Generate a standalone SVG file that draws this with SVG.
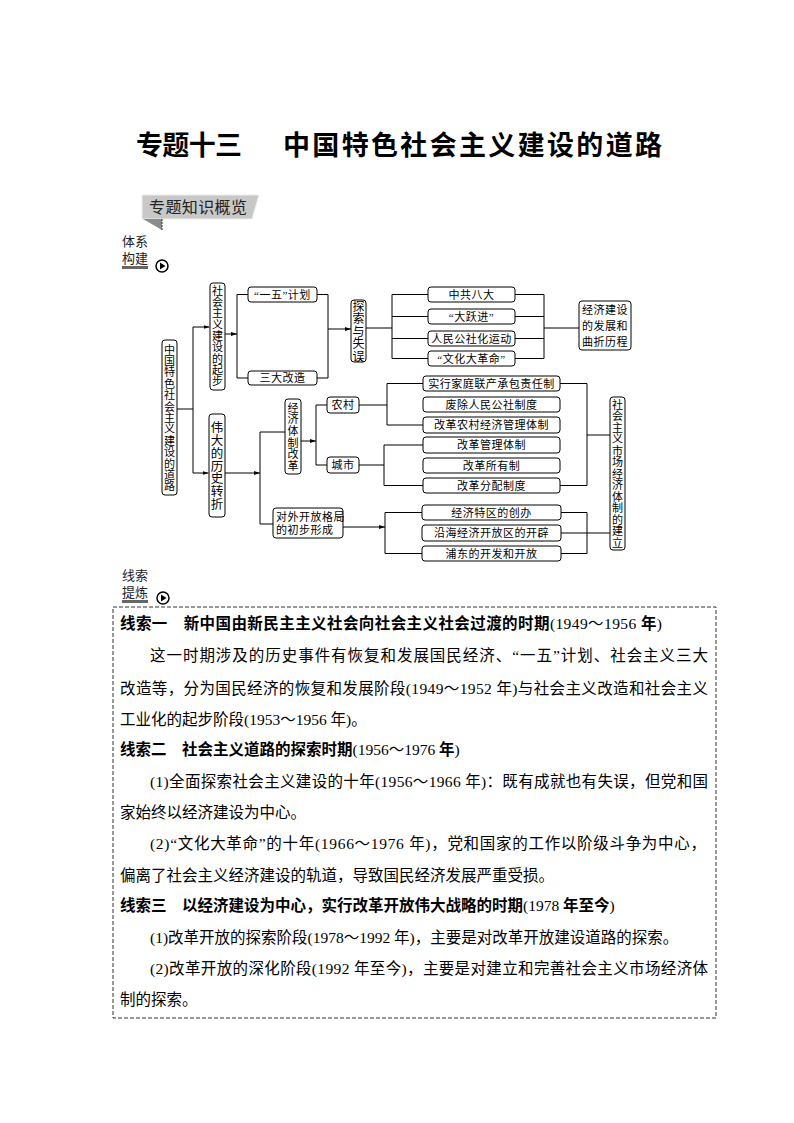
<svg xmlns="http://www.w3.org/2000/svg" width="794" height="1123" viewBox="0 0 794 1123">
<style>
.bx{fill:#fff;stroke:#000;stroke-width:1}
.t{font-family:"Liberation Serif","Noto Sans CJK SC",serif;font-size:11px;fill:#000;letter-spacing:0.5px}
.tm{text-anchor:middle}
.v{font-family:"Noto Sans CJK SC",sans-serif;font-size:11px;fill:#000;text-anchor:middle;writing-mode:vertical-rl;text-orientation:upright}
.c{fill:none;stroke:#000;stroke-width:1}
.body{font-family:"Liberation Serif","Noto Sans CJK SC",serif;font-size:15.5px;fill:#000}
.b{font-family:"Noto Sans CJK SC",sans-serif;font-weight:bold}
.lab{font-family:"Noto Sans CJK SC",sans-serif;font-size:13px;fill:#222}
</style>
<defs>
<marker id="ar" viewBox="0 0 6 4" refX="6" refY="2" markerWidth="6" markerHeight="4" markerUnits="userSpaceOnUse" orient="auto"><path d="M0,0 L6,2 L0,4 z" fill="#000"/></marker>
<g id="play"><circle r="6" fill="#fff" stroke="#000" stroke-width="1.5"/><path d="M-2,-3.5 L3.5,0 L-2,3.5 z" fill="#000"/></g>
</defs>
<rect width="794" height="1123" fill="#fff"/>

<!-- title -->
<g id="title">
<text x="136" y="155" style="font-family:'Noto Sans CJK SC',sans-serif;font-size:27px;font-weight:bold" textLength="106">专题十三</text>
<text x="283" y="155" style="font-family:'Noto Sans CJK SC',sans-serif;font-size:27px;font-weight:bold" textLength="379">中国特色社会主义建设的道路</text>
</g>

<!-- tag -->
<g id="tag">
<polygon points="142,195 259,195 252,219 142,219" fill="#c8c8c8" stroke="#eeeeee" stroke-width="1"/>
<polygon points="143,219 162,219 162,230" fill="#8c8c8c"/>
<line x1="162" y1="219" x2="162" y2="231" stroke="#333" stroke-width="1" stroke-dasharray="2,1"/>
<text x="149" y="213" style="font-family:'Noto Sans CJK SC',sans-serif;font-size:16px;fill:#222" textLength="98">专题知识概览</text>
</g>

<g id="label1">
<text class="lab" x="122" y="246">体系</text>
<text class="lab" x="122" y="263">构建</text>
<rect x="122" y="266" width="26" height="3" fill="#666"/>
<use href="#play" x="162" y="266"/>
</g>

<!-- connectors -->
<g id="connectors">
<path class="c" d="M177,409 H193 M193,327 V473"/>
<path class="c" d="M193,327 H209.5" marker-end="url(#ar)"/>
<path class="c" d="M193,473 H208.5" marker-end="url(#ar)"/>
<path class="c" d="M225,334 H237" marker-end="url(#ar)"/>
<path class="c" d="M248,294.5 H237 V378 H248 M317,294.5 H328 V378 H317"/>
<path class="c" d="M328,329 H351" marker-end="url(#ar)"/>
<path class="c" d="M366,328 H392 M428,294.5 H392 V358.5 H428 M392,316.5 H428 M392,338.5 H428"/>
<path class="c" d="M515,294.5 H544 V358.5 H515 M515,316.5 H544 M515,338.5 H544 M544,328 H579"/>
<path class="c" d="M225,473 H260" marker-end="url(#ar)"/>
<path class="c" d="M285,432 H260 V524 H273"/>
<path class="c" d="M301,441 H316" marker-end="url(#ar)"/>
<path class="c" d="M327,405 H316 V465 H327"/>
<path class="c" d="M359,405 H387 M423,383.5 H387 V425 H423"/>
<path class="c" d="M359,465 H384 M423,445 H384 V485.5 H423"/>
<path class="c" d="M560,383.5 H587 V485.5 H560 M587,435 H610"/>
<path class="c" d="M343,527 H385" marker-end="url(#ar)"/>
<path class="c" d="M422,512.5 H385 V553.5 H422"/>
<path class="c" d="M561,512.5 H587 V553.5 H561 M561,533 H610"/>
</g>

<!-- nodes -->
<g id="n_root">
<rect class="bx" x="162" y="340" width="15" height="155" rx="3"/>
<text class="v" x="169.5" y="418" style="letter-spacing:0.4px">中国特色社会主义建设的道路</text>
</g>
<g id="n_start">
<rect class="bx" x="210" y="283" width="15" height="107" rx="3"/>
<text class="v" x="217.5" y="336" style="letter-spacing:0.3px">社会主义建设的起步</text>
</g>
<g id="n_turn">
<rect class="bx" x="209" y="414" width="16" height="103" rx="3"/>
<text class="v" x="217" y="466" style="font-size:12.5px;letter-spacing:0.3px">伟大的历史转折</text>
</g>
<g id="n_15">
<rect class="bx" x="248" y="287" width="69" height="15" rx="3"/>
<text class="t tm" x="282.5" y="298.5">“一五”计划</text>
</g>
<g id="n_3">
<rect class="bx" x="248" y="371" width="69" height="14" rx="3"/>
<text class="t tm" x="282.5" y="382">三大改造</text>
</g>
<g id="n_explore">
<rect class="bx" x="351" y="300" width="15" height="62" rx="3"/>
<text class="v" x="358.5" y="331.5" style="font-size:12px;letter-spacing:0.5px">探索与失误</text>
</g>
<g id="n_8">
<rect class="bx" x="428" y="287" width="87" height="15" rx="3"/>
<text class="t tm" x="471.5" y="298.5">中共八大</text>
</g>
<g id="n_gl">
<rect class="bx" x="428" y="309" width="87" height="15" rx="3"/>
<text class="t tm" x="471.5" y="320.5">“大跃进”</text>
</g>
<g id="n_commune">
<rect class="bx" x="428" y="331" width="87" height="15" rx="3"/>
<text class="t tm" x="471.5" y="342.5">人民公社化运动</text>
</g>
<g id="n_cr">
<rect class="bx" x="428" y="351" width="87" height="15" rx="3"/>
<text class="t tm" x="471.5" y="362.5">“文化大革命”</text>
</g>
<g id="n_dev">
<rect class="bx" x="579" y="301" width="52" height="49" rx="3"/>
<text class="t tm" x="605" y="314">经济建设</text>
<text class="t tm" x="605" y="330">的发展和</text>
<text class="t tm" x="605" y="346">曲折历程</text>
</g>
<g id="n_econ">
<rect class="bx" x="285" y="399" width="16" height="75" rx="3"/>
<text class="v" x="293" y="437" style="letter-spacing:0.6px">经济体制改革</text>
</g>
<g id="n_rural">
<rect class="bx" x="327" y="397" width="32" height="16" rx="3"/>
<text class="t tm" x="343" y="409">农村</text>
</g>
<g id="n_city">
<rect class="bx" x="327" y="457" width="32" height="16" rx="3"/>
<text class="t tm" x="343" y="469">城市</text>
</g>
<g id="n_r1"><rect class="bx" x="423" y="376" width="137" height="15" rx="3"/><text class="t tm" x="491.5" y="387.5">实行家庭联产承包责任制</text></g>
<g id="n_r2"><rect class="bx" x="423" y="397" width="137" height="15" rx="3"/><text class="t tm" x="491.5" y="408.5">废除人民公社制度</text></g>
<g id="n_r3"><rect class="bx" x="423" y="417" width="137" height="16" rx="3"/><text class="t tm" x="491.5" y="429">改革农村经济管理体制</text></g>
<g id="n_c1"><rect class="bx" x="423" y="437" width="137" height="16" rx="3"/><text class="t tm" x="491.5" y="449">改革管理体制</text></g>
<g id="n_c2"><rect class="bx" x="423" y="458" width="137" height="15" rx="3"/><text class="t tm" x="491.5" y="469.5">改革所有制</text></g>
<g id="n_c3"><rect class="bx" x="423" y="478" width="137" height="15" rx="3"/><text class="t tm" x="491.5" y="489.5">改革分配制度</text></g>
<g id="n_open">
<rect class="bx" x="273" y="508" width="70" height="30" rx="3"/>
<text class="t" x="276" y="521">对外开放格局</text>
<text class="t" x="276" y="534">的初步形成</text>
</g>
<g id="n_o1"><rect class="bx" x="422" y="505" width="139" height="15" rx="3"/><text class="t tm" x="491.5" y="516.5">经济特区的创办</text></g>
<g id="n_o2"><rect class="bx" x="422" y="525" width="139" height="16" rx="3"/><text class="t tm" x="491.5" y="537">沿海经济开放区的开辟</text></g>
<g id="n_o3"><rect class="bx" x="422" y="546" width="139" height="15" rx="3"/><text class="t tm" x="491.5" y="557.5">浦东的开发和开放</text></g>
<g id="n_market">
<rect class="bx" x="610" y="397" width="15" height="153" rx="3"/>
<text class="v" x="617.5" y="474" style="letter-spacing:0.5px">社会主义市场经济体制的建立</text>
</g>

<g id="label2">
<text class="lab" x="122" y="580">线索</text>
<text class="lab" x="122" y="597">提炼</text>
<rect x="122" y="600" width="26" height="3" fill="#666"/>
<use href="#play" x="163" y="598"/>
</g>

<g id="clues">
<rect x="113" y="607" width="603" height="411" fill="none" stroke="#333" stroke-width="1" stroke-dasharray="4,2"/>
<text class="body" x="120" y="629" textLength="542"><tspan class="b">线索一　新中国由新民主主义社会向社会主义社会过渡的时期</tspan>(1949～1956 <tspan class="b">年</tspan>)</text>
<text class="body" x="150" y="661" textLength="558">这一时期涉及的历史事件有恢复和发展国民经济、“一五”计划、社会主义三大</text>
<text class="body" x="120" y="694" textLength="588">改造等，分为国民经济的恢复和发展阶段(1949～1952 年)与社会主义改造和社会主义</text>
<text class="body" x="120" y="725">工业化的起步阶段(1953～1956 年)。</text>
<text class="body" x="120" y="755"><tspan class="b">线索二　社会主义道路的探索时期</tspan>(1956～1976 <tspan class="b">年</tspan>)</text>
<text class="body" x="150" y="787" textLength="558">(1)全面探索社会主义建设的十年(1956～1966 年)：既有成就也有失误，但党和国</text>
<text class="body" x="120" y="818">家始终以经济建设为中心。</text>
<text class="body" x="150" y="849" textLength="556">(2)“文化大革命”的十年(1966～1976 年)，党和国家的工作以阶级斗争为中心，</text>
<text class="body" x="120" y="881">偏离了社会主义经济建设的轨道，导致国民经济发展严重受损。</text>
<text class="body" x="120" y="911"><tspan class="b">线索三　以经济建设为中心，实行改革开放伟大战略的时期</tspan>(1978 <tspan class="b">年至今</tspan>)</text>
<text class="body" x="150" y="943">(1)改革开放的探索阶段(1978～1992 年)，主要是对改革开放建设道路的探索。</text>
<text class="body" x="150" y="974" textLength="558">(2)改革开放的深化阶段(1992 年至今)，主要是对建立和完善社会主义市场经济体</text>
<text class="body" x="120" y="1005">制的探索。</text>
</g>
</svg>
